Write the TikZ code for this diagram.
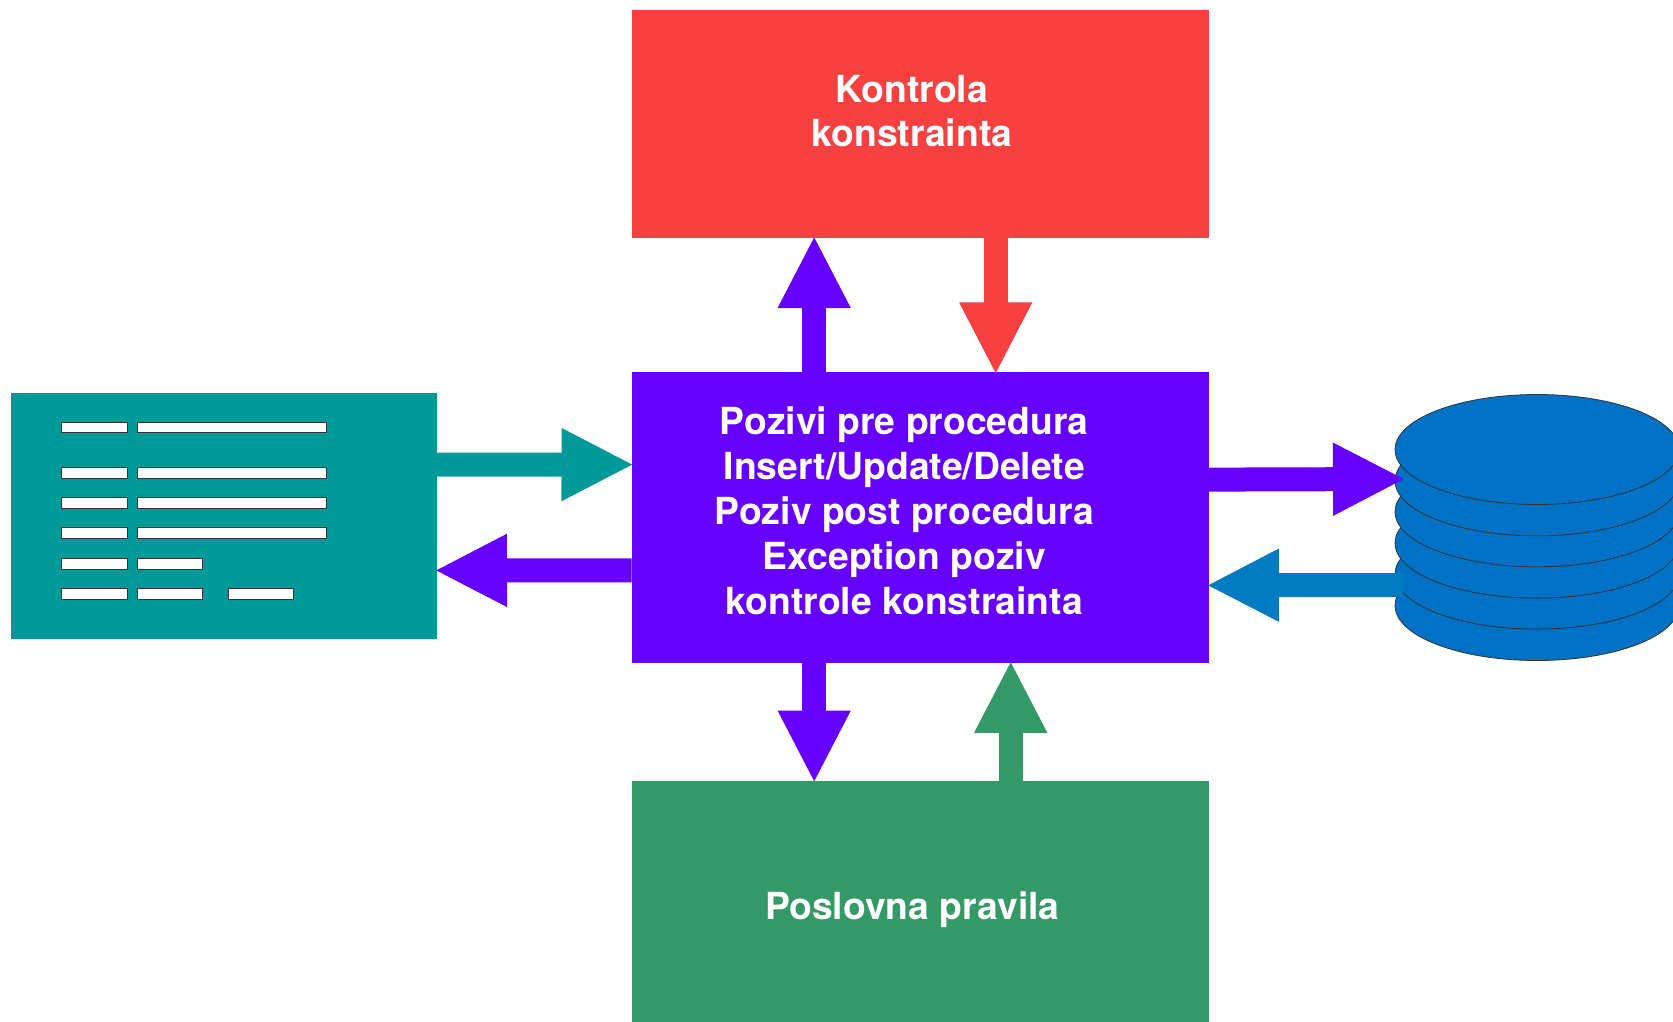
\documentclass[tikz,border=0pt]{standalone}
\usepackage{fontspec}
\setmainfont{TeX Gyre Heros}
\usetikzlibrary{arrows.meta,shapes.geometric}
\definecolor{cred}{HTML}{F94040}
\definecolor{cpurple}{HTML}{6600FF}
\definecolor{cteal}{HTML}{009999}
\definecolor{cgreen}{HTML}{339966}
\definecolor{cdb}{HTML}{0072C6}
\definecolor{cblue}{HTML}{007AC0}
\tikzset{
  box/.style={rectangle,inner sep=0pt,outer sep=0pt,minimum width=#1},
  label/.style={align=center,text=white,inner sep=0pt,font=\fontsize{37.3}{44.8}\selectfont\bfseries},
  bar/.style={rectangle,draw=black!80,line width=0.9pt,fill=white,inner sep=0pt,outer sep=0pt,minimum height=10.5pt,minimum width=#1},
  disc/.style={ellipse,draw=black!80,line width=0.8pt,fill=cdb,inner sep=0pt,outer sep=0pt,minimum width=284pt,minimum height=110pt},
  blockarrow/.style={draw=#1,line width=24pt,-{Triangle[length=72.5pt,width=67.5pt,fill=#1]},shorten >=-2.5pt},
}
\begin{document}
\begin{tikzpicture}[x=1pt,y=-1pt]
\useasboundingbox (0,0) rectangle (1673,1021);
% boxes
\node[box=577.4pt,minimum height=228.6pt,fill=cred] (red) at (920.2,123.8) {};
\node[box=577.4pt,minimum height=290.6pt,fill=cpurple] (purple) at (920.2,517.6) {};
\node[box=577.4pt,minimum height=241pt,fill=cgreen] (green) at (920.2,901) {};
\node[box=426pt,minimum height=245.4pt,fill=cteal] (teal) at (224,516) {};
% text
\node[label] (redtext) at (912,111) {Kontrola\\konstrainta};
\node[label] (purpletext) at (904.3,510.7) {Pozivi pre procedura\\Insert/Update/Delete\\Poziv post procedura\\Exception poziv\\kontrole konstrainta};
\node[label] (greentext) at (912.3,910) {Poslovna pravila};
% form fields
\foreach \n/\y in {a/427.4,b/473,c/503,d/533.1}{
  \node[bar=66.4pt] (\n1) at (94.5,\y) {};
  \node[bar=189.6pt] (\n2) at (232,\y) {};
}
\node[bar=66.4pt] (e1) at (94.5,563.7) {};
\node[bar=65.5pt] (e2) at (169.8,563.7) {};
\node[bar=66.4pt] (f1) at (94.5,594) {};
\node[bar=65.5pt] (f2) at (169.8,594) {};
\node[bar=65.5pt] (f3) at (260.8,594) {};
% database
\node[disc] (db6) at (1537,605.5) {};
\node[disc] (db5) at (1537,574.1) {};
\node[disc] (db4) at (1537,543.1) {};
\node[disc] (db3) at (1537,511.8) {};
\node[disc] (db2) at (1537,480.8) {};
\node[disc] (db1) at (1537,449.5) {};
\coordinate (dbin) at (1403,479);
\coordinate (dbout) at (1403,585);
% connectors
\draw[blockarrow=cpurple] ([xshift=-106pt]purple.north) -- ([xshift=-106pt]red.south);
\draw[blockarrow=cred] ([xshift=75.5pt]red.south) -- ([xshift=75.5pt]purple.north);
\draw[blockarrow=cpurple] ([xshift=-106pt]purple.south) -- ([xshift=-106pt]green.north);
\draw[blockarrow=cgreen] ([xshift=90.5pt]green.north) -- ([xshift=90.5pt]purple.south);
\draw[blockarrow=cteal] ([yshift=51.5pt]teal.east) -- ([yshift=53pt]purple.west);
\draw[blockarrow=cpurple] ([yshift=-52.7pt]purple.west) -- ([yshift=-54.4pt]teal.east);
\draw[blockarrow=cpurple] ([yshift=38pt]purple.east) -- (dbin);
\draw[blockarrow=cblue] (dbout) -- ([yshift=-67.7pt]purple.east);
\end{tikzpicture}
\end{document}
